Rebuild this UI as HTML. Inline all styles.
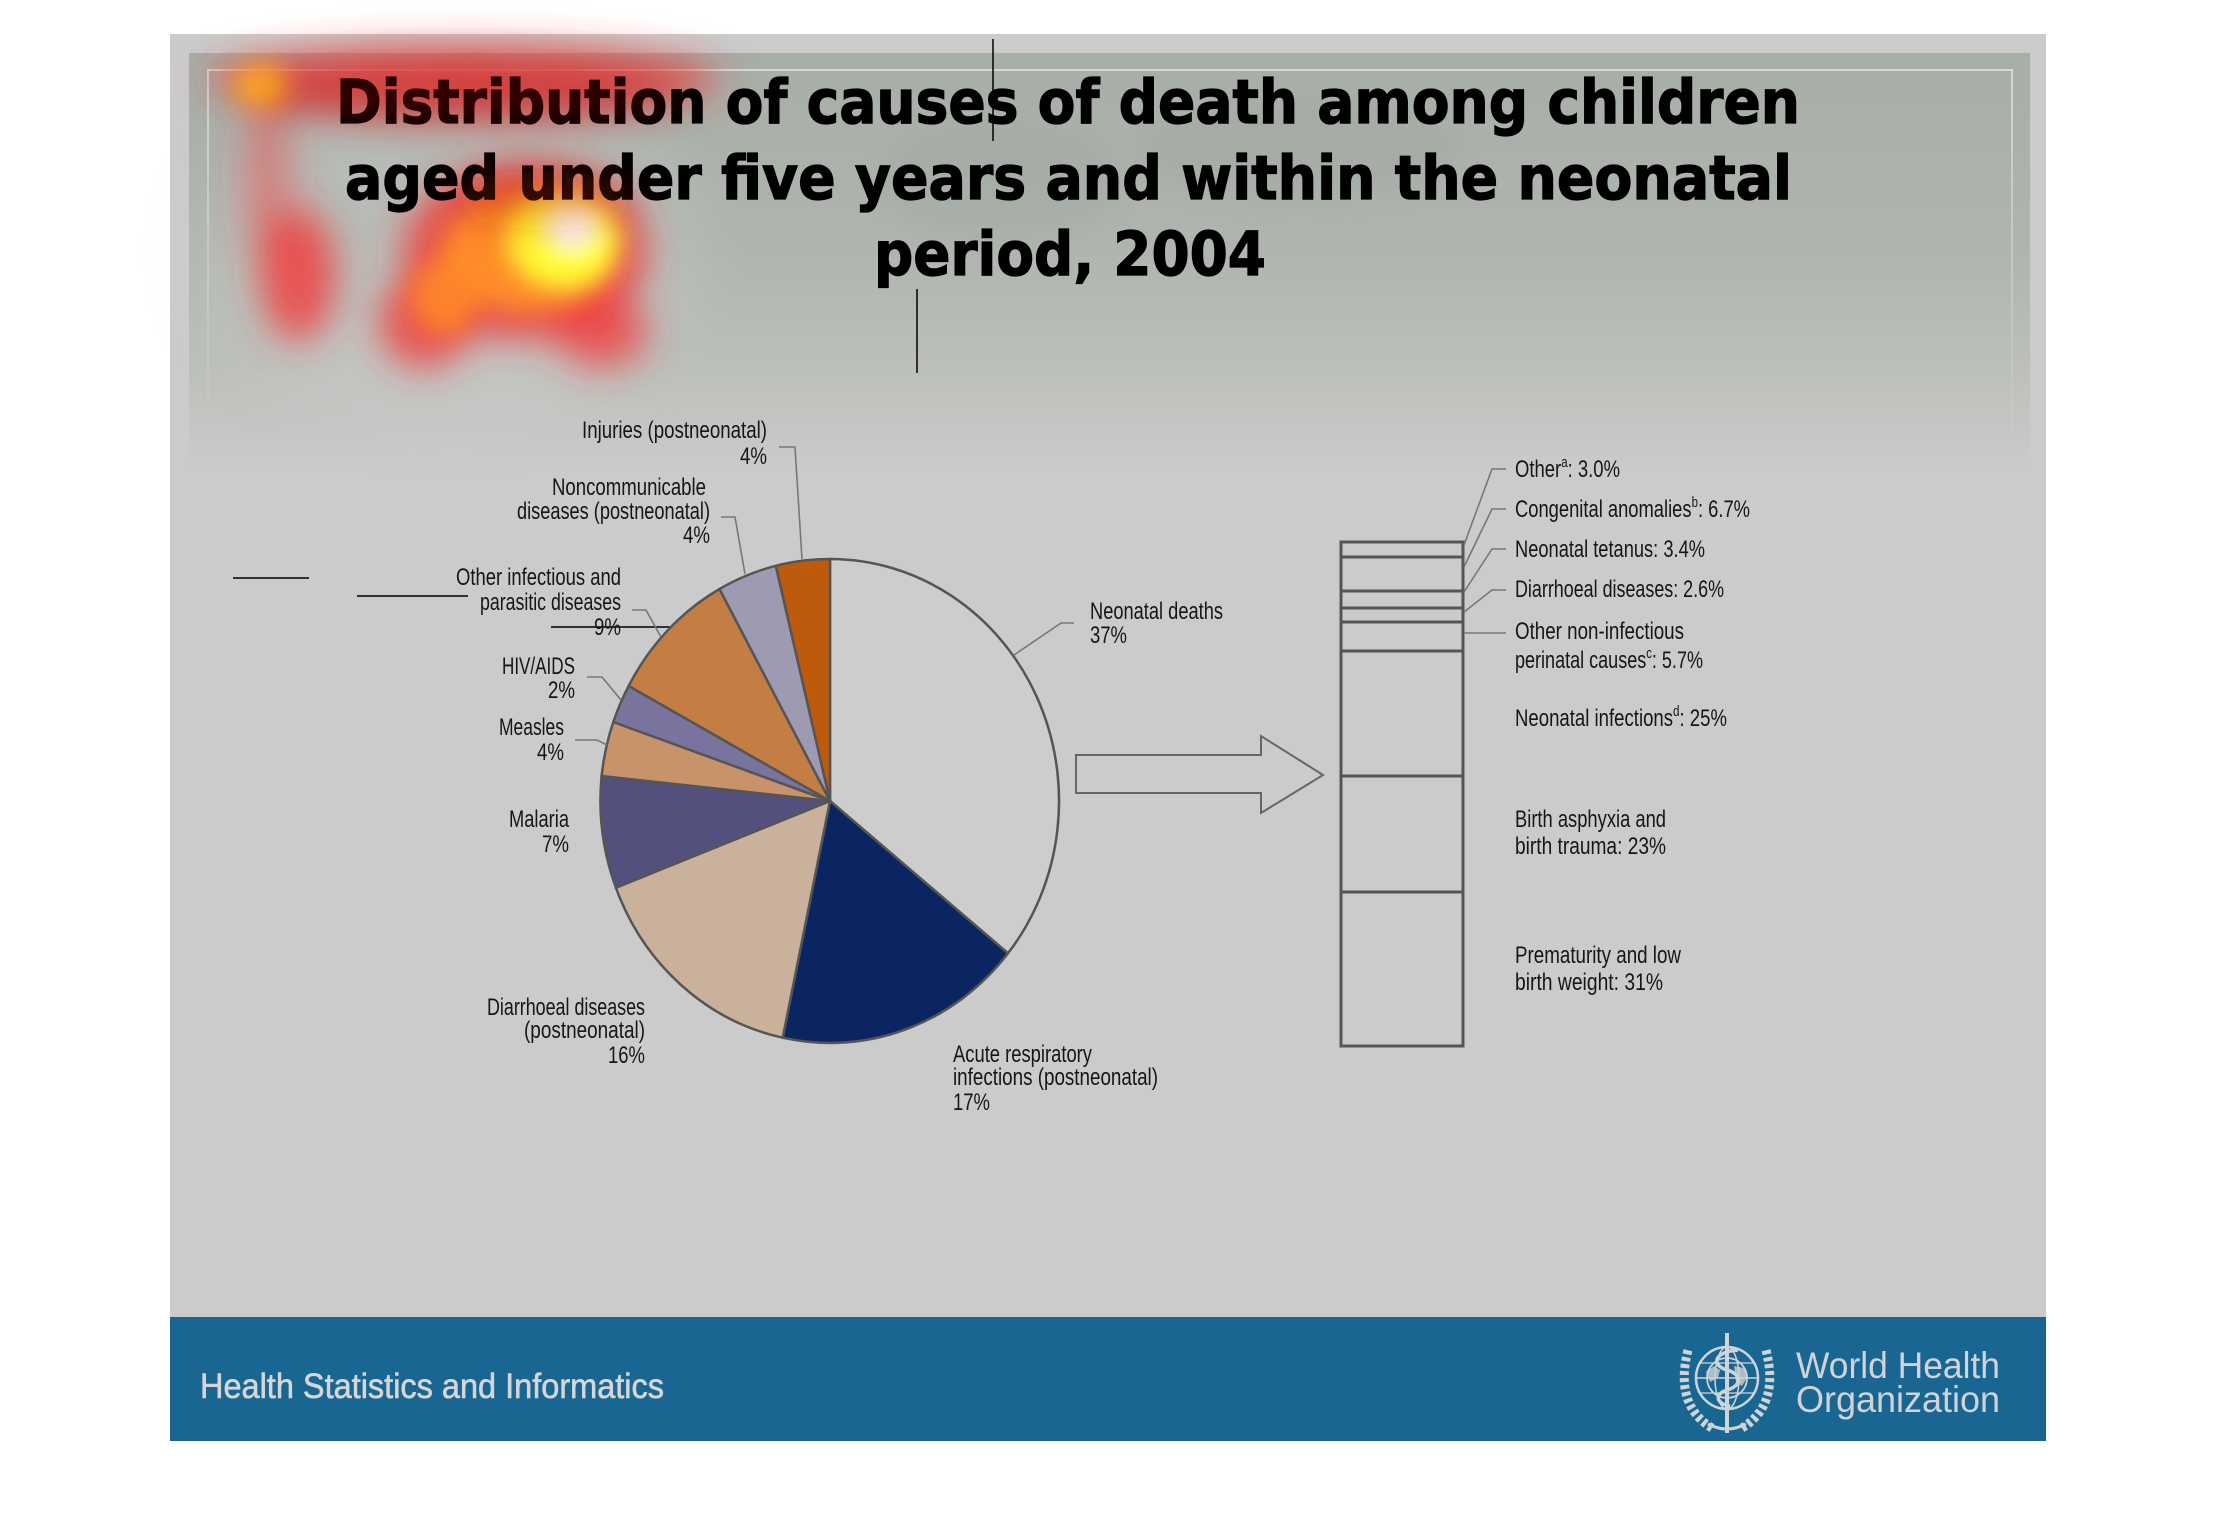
<!DOCTYPE html>
<html>
<head>
<meta charset="utf-8">
<style>
  html,body{margin:0;padding:0;background:#ffffff;}
  body{width:2216px;height:1530px;overflow:hidden;}
  svg{display:block;}
  .lbl{font-family:"Liberation Sans Narrow","Liberation Sans",sans-serif;font-size:24px;fill:#161616;}
  .sup{font-size:15px;}
  .ttl{font-family:"DejaVu Sans","Liberation Sans",sans-serif;font-weight:bold;font-size:61px;fill:#000;stroke:#000;stroke-width:1.3px;}
</style>
</head>
<body>
<svg width="2216" height="1530" viewBox="0 0 2216 1530" xmlns="http://www.w3.org/2000/svg">
  <defs>
    <linearGradient id="topgrad" x1="0" y1="0" x2="0" y2="1">
      <stop offset="0" stop-color="#a7aea7"/>
      <stop offset="0.45" stop-color="#afb4ae"/>
      <stop offset="0.75" stop-color="#bcbfba"/>
      <stop offset="1" stop-color="#cbcbcb"/>
    </linearGradient>
    <linearGradient id="linefade" x1="0" y1="0" x2="0" y2="1">
      <stop offset="0" stop-color="#dadcd8" stop-opacity="0.9"/>
      <stop offset="1" stop-color="#dadcd8" stop-opacity="0"/>
    </linearGradient>
    <filter id="blur1" x="-50%" y="-50%" width="200%" height="200%">
      <feGaussianBlur stdDeviation="18"/>
    </filter>
    <filter id="blur2" x="-50%" y="-50%" width="200%" height="200%">
      <feGaussianBlur stdDeviation="12"/>
    </filter>
    <filter id="blur3" x="-50%" y="-50%" width="200%" height="200%">
      <feGaussianBlur stdDeviation="30"/>
    </filter>
  </defs>

  <!-- slide background -->
  <rect x="170" y="34" width="1876" height="1407" fill="#cbcbcb"/>
  <rect x="189" y="53" width="1841" height="420" fill="url(#topgrad)"/>
  <!-- inner border lines -->
  <rect x="207" y="69" width="1806" height="2" fill="#d6d9d4"/>
  <rect x="207" y="69" width="2" height="400" fill="url(#linefade)"/>
  <rect x="2011" y="69" width="2" height="400" fill="url(#linefade)"/>

  <!-- faint map hints -->
  <g opacity="0.15" fill="#8c948c" filter="url(#blur2)">
    <ellipse cx="1000" cy="180" rx="120" ry="60"/>
    <ellipse cx="1300" cy="150" rx="160" ry="50"/>
  </g>

  <!-- heatmap (under title) -->
  <ellipse cx="450" cy="250" rx="250" ry="170" fill="#d8d8d8" opacity="0.25" filter="url(#blur3)"/>
  <g filter="url(#blur1)">
    <ellipse cx="465" cy="80" rx="255" ry="34" fill="#f43434" opacity="0.72"/>
    <ellipse cx="268" cy="180" rx="26" ry="90" fill="#f43434" opacity="0.4"/>
    <ellipse cx="298" cy="275" rx="38" ry="66" fill="#f43434" opacity="0.78"/>
    <ellipse cx="525" cy="252" rx="122" ry="88" fill="#f43434" opacity="0.8"/>
    <ellipse cx="425" cy="322" rx="46" ry="46" fill="#f43434" opacity="0.78"/>
    <ellipse cx="602" cy="332" rx="46" ry="36" fill="#f43434" opacity="0.72"/>
  </g>
  <g filter="url(#blur2)">
    <ellipse cx="262" cy="86" rx="28" ry="22" fill="#ffae28" opacity="0.95"/>
    <ellipse cx="530" cy="252" rx="88" ry="60" fill="#ff9028" opacity="0.95"/>
    <ellipse cx="445" cy="296" rx="34" ry="38" fill="#ff8a2a" opacity="0.9"/>
    <ellipse cx="565" cy="238" rx="56" ry="48" fill="#ffff30" opacity="1"/>
    <ellipse cx="572" cy="228" rx="22" ry="20" fill="#ffffff" opacity="1"/>
  </g>

  <!-- title -->
  <text class="ttl" x="336" y="123" textLength="1464" lengthAdjust="spacingAndGlyphs">Distribution of causes of death among children</text>
  <text class="ttl" x="345" y="199" textLength="1447" lengthAdjust="spacingAndGlyphs">aged under five years and within the neonatal</text>
  <text class="ttl" x="874" y="275" textLength="392" lengthAdjust="spacingAndGlyphs">period, 2004</text>

  <!-- red tint over title within heatmap -->
  <g filter="url(#blur1)">
    <ellipse cx="470" cy="95" rx="210" ry="30" fill="#b00000" opacity="0.3"/>
    <ellipse cx="545" cy="200" rx="90" ry="30" fill="#c02000" opacity="0.3"/>
  </g>

  <!-- stray lines -->
  <g stroke="#000" stroke-width="1.5">
    <line x1="993" y1="39" x2="993" y2="141"/>
    <line x1="917" y1="289" x2="917" y2="373"/>
    <line x1="233" y1="578" x2="309" y2="578"/>
    <line x1="357" y1="596" x2="468" y2="596"/>
    <line x1="551" y1="627" x2="700" y2="627"/>
  </g>

  <!-- pie (ellipse cx 830 cy 801 rx 229 ry 242) -->
  <g stroke="#555" stroke-width="2.5" stroke-linejoin="round">
    <path d="M830,801 L830,559 A229,242 0 0 1 1008.0,953.3 Z" fill="#cdcdcd"/>
    <path d="M830,801 L1008.0,953.3 A229,242 0 0 1 782.7,1037.7 Z" fill="#0b2562"/>
    <path d="M830,801 L782.7,1037.7 A229,242 0 0 1 615.9,887.7 Z" fill="#cab19b"/>
    <path d="M830,801 L615.9,887.7 A229,242 0 0 1 601.6,776.0 Z" fill="#53507e"/>
    <path d="M830,801 L601.6,776.0 A229,242 0 0 1 613.3,722.0 Z" fill="#c8926a"/>
    <path d="M830,801 L613.3,722.0 A229,242 0 0 1 628.7,685.9 Z" fill="#78749e"/>
    <path d="M830,801 L628.7,685.9 A229,242 0 0 1 719.5,589.0 Z" fill="#c47e44"/>
    <path d="M830,801 L719.5,589.0 A229,242 0 0 1 775.8,565.8 Z" fill="#9d9ab2"/>
    <path d="M830,801 L775.8,565.8 A229,242 0 0 1 830,559 Z" fill="#bd5a0c"/>
  </g>

  <!-- pie leader lines -->
  <g stroke="#777" stroke-width="1.6" fill="none">
    <polyline points="779,447 795,447 802,559"/>
    <polyline points="721,517 735,517 745,574"/>
    <polyline points="632,610 646,610 661,637"/>
    <polyline points="587,677 602,677 621,700"/>
    <polyline points="575,740 597,740 607,745"/>
    <polyline points="1074,623 1061,623 1014,655"/>
  </g>

  <!-- pie labels -->
  <text class="lbl" x="582" y="438" textLength="185" lengthAdjust="spacingAndGlyphs">Injuries (postneonatal)</text>
  <text class="lbl" x="740" y="464" textLength="27" lengthAdjust="spacingAndGlyphs">4%</text>
  <text class="lbl" x="552" y="495" textLength="154" lengthAdjust="spacingAndGlyphs">Noncommunicable</text>
  <text class="lbl" x="517" y="519" textLength="193" lengthAdjust="spacingAndGlyphs">diseases (postneonatal)</text>
  <text class="lbl" x="683" y="543" textLength="27" lengthAdjust="spacingAndGlyphs">4%</text>
  <text class="lbl" x="456" y="585" textLength="165" lengthAdjust="spacingAndGlyphs">Other infectious and</text>
  <text class="lbl" x="480" y="610" textLength="141" lengthAdjust="spacingAndGlyphs">parasitic diseases</text>
  <text class="lbl" x="594" y="635" textLength="27" lengthAdjust="spacingAndGlyphs">9%</text>
  <text class="lbl" x="502" y="674" textLength="73" lengthAdjust="spacingAndGlyphs">HIV/AIDS</text>
  <text class="lbl" x="548" y="698" textLength="27" lengthAdjust="spacingAndGlyphs">2%</text>
  <text class="lbl" x="499" y="735" textLength="65" lengthAdjust="spacingAndGlyphs">Measles</text>
  <text class="lbl" x="537" y="760" textLength="27" lengthAdjust="spacingAndGlyphs">4%</text>
  <text class="lbl" x="509" y="827" textLength="60" lengthAdjust="spacingAndGlyphs">Malaria</text>
  <text class="lbl" x="542" y="852" textLength="27" lengthAdjust="spacingAndGlyphs">7%</text>
  <text class="lbl" x="487" y="1015" textLength="158" lengthAdjust="spacingAndGlyphs">Diarrhoeal diseases</text>
  <text class="lbl" x="524" y="1038" textLength="121" lengthAdjust="spacingAndGlyphs">(postneonatal)</text>
  <text class="lbl" x="608" y="1063" textLength="37" lengthAdjust="spacingAndGlyphs">16%</text>
  <text class="lbl" x="953" y="1062" textLength="139" lengthAdjust="spacingAndGlyphs">Acute respiratory</text>
  <text class="lbl" x="953" y="1085" textLength="205" lengthAdjust="spacingAndGlyphs">infections (postneonatal)</text>
  <text class="lbl" x="953" y="1110" textLength="37" lengthAdjust="spacingAndGlyphs">17%</text>
  <text class="lbl" x="1090" y="619" textLength="133" lengthAdjust="spacingAndGlyphs">Neonatal deaths</text>
  <text class="lbl" x="1090" y="643" textLength="37" lengthAdjust="spacingAndGlyphs">37%</text>

  <!-- arrow -->
  <polygon points="1076,755 1261,755 1261,736 1323,775 1261,813 1261,793 1076,793" fill="#cbcbcb" stroke="#666" stroke-width="2"/>

  <!-- stacked bar -->
  <g stroke="#555" stroke-width="3" fill="none">
    <rect x="1341" y="542" width="122" height="504" fill="#cbcbcb"/>
    <line x1="1341" y1="557" x2="1463" y2="557"/>
    <line x1="1341" y1="591" x2="1463" y2="591"/>
    <line x1="1341" y1="608" x2="1463" y2="608"/>
    <line x1="1341" y1="622" x2="1463" y2="622"/>
    <line x1="1341" y1="651" x2="1463" y2="651"/>
    <line x1="1341" y1="776" x2="1463" y2="776"/>
    <line x1="1341" y1="892" x2="1463" y2="892"/>
  </g>

  <!-- bar leader lines -->
  <g stroke="#777" stroke-width="1.6" fill="none">
    <polyline points="1506,469 1492,469 1464,545"/>
    <polyline points="1506,509 1492,509 1464,567"/>
    <polyline points="1506,549 1492,549 1464,592"/>
    <polyline points="1506,590 1492,590 1464,612"/>
    <polyline points="1506,633 1464,633"/>
  </g>

  <!-- bar labels -->
  <text class="lbl" x="1515" y="477" textLength="105" lengthAdjust="spacingAndGlyphs">Other<tspan class="sup" dy="-10">a</tspan><tspan dy="10">: 3.0%</tspan></text>
  <text class="lbl" x="1515" y="517" textLength="235" lengthAdjust="spacingAndGlyphs">Congenital anomalies<tspan class="sup" dy="-10">b</tspan><tspan dy="10">: 6.7%</tspan></text>
  <text class="lbl" x="1515" y="557" textLength="190" lengthAdjust="spacingAndGlyphs">Neonatal tetanus: 3.4%</text>
  <text class="lbl" x="1515" y="597" textLength="209" lengthAdjust="spacingAndGlyphs">Diarrhoeal diseases: 2.6%</text>
  <text class="lbl" x="1515" y="639" textLength="169" lengthAdjust="spacingAndGlyphs">Other non-infectious</text>
  <text class="lbl" x="1515" y="668" textLength="188" lengthAdjust="spacingAndGlyphs">perinatal causes<tspan class="sup" dy="-10">c</tspan><tspan dy="10">: 5.7%</tspan></text>
  <text class="lbl" x="1515" y="726" textLength="212" lengthAdjust="spacingAndGlyphs">Neonatal infections<tspan class="sup" dy="-10">d</tspan><tspan dy="10">: 25%</tspan></text>
  <text class="lbl" x="1515" y="827" textLength="151" lengthAdjust="spacingAndGlyphs">Birth asphyxia and</text>
  <text class="lbl" x="1515" y="854" textLength="151" lengthAdjust="spacingAndGlyphs">birth trauma: 23%</text>
  <text class="lbl" x="1515" y="963" textLength="166" lengthAdjust="spacingAndGlyphs">Prematurity and low</text>
  <text class="lbl" x="1515" y="990" textLength="148" lengthAdjust="spacingAndGlyphs">birth weight: 31%</text>

  <!-- footer -->
  <rect x="170" y="1317" width="1876" height="124" fill="#1a6693"/>
  <text x="200" y="1398" font-family="'Liberation Sans Narrow','Liberation Sans',sans-serif" font-size="35" fill="#d4d6d8" stroke="#d4d6d8" stroke-width="0.6" textLength="464" lengthAdjust="spacingAndGlyphs">Health Statistics and Informatics</text>

  <!-- WHO emblem -->
  <g stroke="#cfd4d8" fill="none">
    <circle cx="1727" cy="1378" r="31" stroke-width="2.5"/>
    <circle cx="1727" cy="1378" r="20" stroke-width="1.8"/>
    <ellipse cx="1727" cy="1378" rx="12" ry="31" stroke-width="1.5"/>
    <line x1="1696" y1="1378" x2="1758" y2="1378" stroke-width="1.5"/>
    <line x1="1700" y1="1363" x2="1754" y2="1363" stroke-width="1.2"/>
    <line x1="1700" y1="1393" x2="1754" y2="1393" stroke-width="1.2"/>
    <line x1="1727" y1="1333" x2="1727" y2="1433" stroke-width="4"/>
    <path d="M1738,1350 C1712,1352 1712,1366 1727,1370 C1742,1374 1742,1386 1727,1390 C1714,1394 1716,1404 1730,1406" stroke-width="3.5"/>
    <path d="M1712,1428 Q1674,1405 1688,1350" stroke-width="9" stroke-dasharray="4 3"/>
    <path d="M1742,1428 Q1780,1405 1766,1350" stroke-width="9" stroke-dasharray="4 3"/>
    <path d="M1708,1424 Q1727,1434 1746,1424" stroke-width="3"/>
  </g>
  <g fill="#cfd4d8" opacity="0.8">
    <path d="M1706,1372 l8,-6 l6,4 l-2,8 l-8,4 z"/>
    <path d="M1734,1366 l10,2 l4,8 l-6,10 l-6,-4 z"/>
  </g>
  <text x="1796" y="1378" font-family="'Liberation Sans',sans-serif" font-size="37" fill="#cfd4d8" textLength="204" lengthAdjust="spacingAndGlyphs">World Health</text>
  <text x="1796" y="1412" font-family="'Liberation Sans',sans-serif" font-size="37" fill="#cfd4d8" textLength="204" lengthAdjust="spacingAndGlyphs">Organization</text>
</svg>
</body>
</html>
